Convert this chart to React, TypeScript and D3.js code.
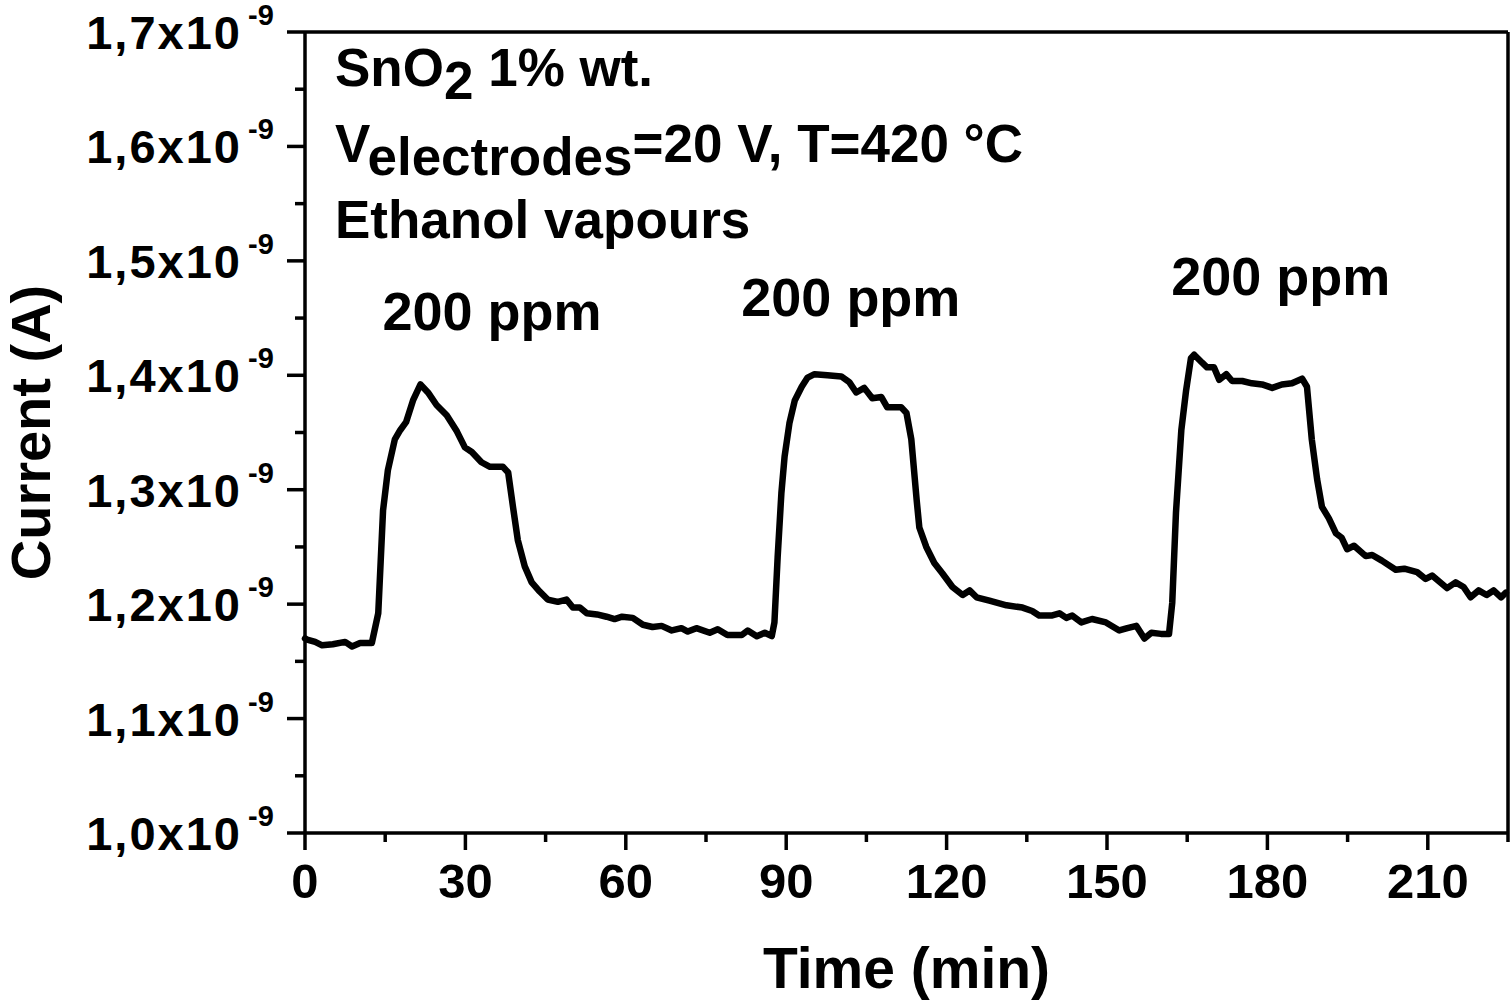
import * as React from 'react';
import * as d3 from 'd3';

// time in minutes, current in units of 1e-9 A
const timeMin = [
  0, 0.4, 1.9, 3.2, 5.2, 7.5, 8.8, 10.3, 12.5, 13.7, 14.6, 15.5, 16.8, 17.8, 18.9, 20.2, 21.6,
  23.0, 24.6, 26.5, 28.4, 29.9, 31.2, 33.0, 34.6, 37.0, 38.0, 38.9, 39.8, 41.1, 42.4, 43.9,
  45.4, 47.3, 48.9, 50.1, 51.4, 52.7, 54.6, 56.4, 57.9, 59.3, 61.3, 63.2, 65.0, 66.7, 68.6,
  70.4, 71.6, 73.2, 75.7, 77.2, 79.0, 81.7, 82.8, 84.5, 86.0, 87.3, 87.8, 88.4, 89.1, 89.7,
  90.6, 91.6, 92.9, 94.0, 95.3, 97.7, 100.3, 101.8, 103.1, 104.6, 106.1, 107.8, 108.9, 111.5,
  112.5, 113.4, 114.4, 114.9, 116.2, 117.7, 119.2, 121.1, 123.0, 124.3, 125.6, 128.0, 131.2,
  134.2, 136.0, 137.3, 139.6, 141.1, 142.4, 143.5, 145.2, 147.2, 149.8, 152.3, 153.8, 155.5,
  157.0, 158.3, 160.1, 161.6, 162.2, 162.9, 163.9, 164.8, 165.7, 166.3, 167.8, 168.7, 170.0,
  171.0, 172.3, 173.4, 175.3, 177.1, 179.0, 180.9, 182.7, 184.6, 186.5, 187.4, 188.3, 189.3,
  190.2, 191.5, 192.8, 193.9, 194.9, 196.2, 198.4, 199.6, 201.4, 204.0, 205.6, 208.0, 209.6,
  210.8, 213.6, 215.2, 216.7, 218.0, 219.5, 221.0, 222.3, 223.7, 224.6,
];
const currentNA = [
  1.170, 1.169, 1.167, 1.164, 1.165, 1.167, 1.163, 1.166, 1.166, 1.192, 1.282, 1.317, 1.344,
  1.352, 1.359, 1.378, 1.392, 1.385, 1.374, 1.365, 1.351, 1.337, 1.333, 1.324, 1.320, 1.320,
  1.315, 1.285, 1.256, 1.233, 1.219, 1.211, 1.204, 1.202, 1.204, 1.197, 1.197, 1.192, 1.191,
  1.189, 1.187, 1.189, 1.188, 1.182, 1.180, 1.181, 1.177, 1.179, 1.176, 1.179, 1.175, 1.178,
  1.173, 1.173, 1.177, 1.172, 1.175, 1.172, 1.184, 1.241, 1.297, 1.329, 1.358, 1.378, 1.390,
  1.398, 1.401, 1.400, 1.399, 1.394, 1.385, 1.389, 1.380, 1.381, 1.372, 1.372, 1.367, 1.344,
  1.291, 1.267, 1.250, 1.236, 1.227, 1.215, 1.208, 1.212, 1.206, 1.203, 1.199, 1.197, 1.194,
  1.190, 1.190, 1.192, 1.188, 1.190, 1.184, 1.187, 1.184, 1.177, 1.179, 1.181, 1.170, 1.175,
  1.174, 1.174, 1.201, 1.280, 1.352, 1.387, 1.415, 1.418, 1.411, 1.407, 1.407, 1.396, 1.401,
  1.395, 1.395, 1.393, 1.392, 1.389, 1.392, 1.393, 1.397, 1.390, 1.344, 1.309, 1.285, 1.275,
  1.262, 1.258, 1.248, 1.251, 1.242, 1.243, 1.238, 1.230, 1.231, 1.228, 1.222, 1.225, 1.214,
  1.219, 1.215, 1.206, 1.212, 1.208, 1.212, 1.206, 1.210,
];

const xTicks = [0, 30, 60, 90, 120, 150, 180, 210];
const xMinorTicks = [15, 45, 75, 105, 135, 165, 195, 225];
const yTicks = [1.0, 1.1, 1.2, 1.3, 1.4, 1.5, 1.6, 1.7];
const yMinorTicks = [1.05, 1.15, 1.25, 1.35, 1.45, 1.55, 1.65];

// ethanol pulses: label position in data units (left edge time, baseline current)
const pulseLabels = ['200 ppm', '200 ppm', '200 ppm'];
const pulseLabelTime = [14.5, 81.6, 162.0];
const pulseLabelCurrent = [1.4395, 1.4515, 1.4705];

const W = 1512;
const H = 1000;
const margin = { top: 32, right: 4, bottom: 167, left: 305 };
const font = '"Liberation Sans", Arial, sans-serif';

const App: React.FC = () => {
  const x = d3.scaleLinear().domain([0, 225]).range([margin.left, W - margin.right]);
  const y = d3.scaleLinear().domain([1.0, 1.7]).range([H - margin.bottom, margin.top]);

  const line = d3.line<number>()
    .x((_, i) => x(timeMin[i]))
    .y(d => y(d))
    .curve(d3.curveLinear);

  const x0 = x(0);
  const x1 = x(225);
  const y0 = y(1.0);
  const y1 = y(1.7);
  const axisW = 3.5;

  return (
    <svg width={W} height={H} style={{ position: 'absolute', left: 0, top: 0, background: '#fff' }}
      fontFamily={font} fontWeight="bold">
      {/* curve */}
      <path d={line(currentNA) || ''} fill="none" stroke="#000" strokeWidth={6.5}
        strokeLinejoin="round" strokeLinecap="round" />

      {/* frame */}
      <line x1={x0} x2={x1} y1={y1} y2={y1} stroke="#000" strokeWidth={axisW} />
      <line x1={x1} x2={x1} y1={y1} y2={y0} stroke="#000" strokeWidth={axisW} />
      <line x1={x0} x2={x0} y1={y1} y2={y0} stroke="#000" strokeWidth={axisW} />
      <line x1={x0} x2={x1} y1={y0} y2={y0} stroke="#000" strokeWidth={axisW} />

      {/* y ticks */}
      {yTicks.map(t => (
        <g key={'y' + t}>
          <line x1={x0 - 18} x2={x0} y1={y(t)} y2={y(t)} stroke="#000" strokeWidth={axisW} />
          <text x={242} y={y(t) + 17} textAnchor="end" fontSize={47} letterSpacing={2}>
            {t.toFixed(1).replace('.', ',')}x10
          </text>
          <text x={248} y={y(t) - 7} fontSize={29}>-9</text>
        </g>
      ))}
      {yMinorTicks.map(t => (
        <line key={'ym' + t} x1={x0 - 10} x2={x0} y1={y(t)} y2={y(t)} stroke="#000" strokeWidth={axisW} />
      ))}

      {/* x ticks */}
      {xTicks.map(t => (
        <g key={'x' + t}>
          <line x1={x(t)} x2={x(t)} y1={y0} y2={y0 + 17} stroke="#000" strokeWidth={axisW} />
          <text x={x(t)} y={898} textAnchor="middle" fontSize={49}>{t}</text>
        </g>
      ))}
      {xMinorTicks.map(t => (
        <line key={'xm' + t} x1={x(t)} x2={x(t)} y1={y0} y2={y0 + 9} stroke="#000" strokeWidth={axisW} />
      ))}

      {/* axis titles */}
      <text x={(x0 + x1) / 2} y={988} textAnchor="middle" fontSize={57}>Time (min)</text>
      <text transform={`translate(50,${(y0 + y1) / 2}) rotate(-90)`} textAnchor="middle" fontSize={56}>
        Current (A)
      </text>

      {/* annotations */}
      <text x={335} y={86} fontSize={53}>
        <tspan>SnO</tspan>
        <tspan dy={13}>2</tspan>
        <tspan dy={-13}> 1% wt.</tspan>
      </text>
      <text x={335} y={162} fontSize={53}>
        <tspan>V</tspan>
        <tspan dy={13}>electrodes</tspan>
        <tspan dy={-13}>=20 V, T=420 °C</tspan>
      </text>
      <text x={335} y={238} fontSize={53}>Ethanol vapours</text>

      {pulseLabels.map((s, i) => (
        <text key={'p' + i} x={x(pulseLabelTime[i])} y={y(pulseLabelCurrent[i])} fontSize={54}>{s}</text>
      ))}
    </svg>
  );
};

export default App;
